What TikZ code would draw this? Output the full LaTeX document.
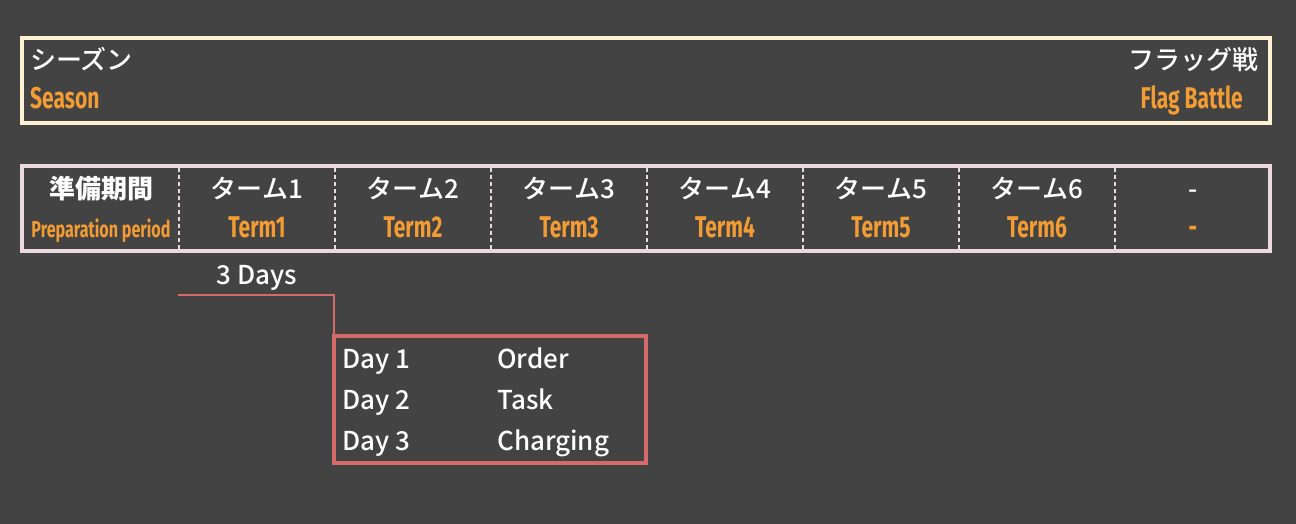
\documentclass[tikz,border=0pt]{standalone}
\usepackage{fontspec}
\usepackage{xcolor}
\usetikzlibrary{positioning}
\newfontfamily\jpfont{Noto Sans CJK JP}[UprightFont=* Medium]
\newfontfamily\labelfont[FakeStretch=0.7]{Fira Sans}
\definecolor{bggray}{HTML}{434343}
\definecolor{seasonframe}{HTML}{FEF2D4}
\definecolor{termframe}{HTML}{EBD9DF}
\definecolor{dayframe}{HTML}{D46A6A}
\definecolor{labelorange}{HTML}{F29C33}

\begin{document}
\begin{tikzpicture}[x=1pt,y=-1pt,
  jp/.style={text=white,inner sep=0pt,font=\jpfont\fontsize{26}{26}\selectfont},
  lbl/.style={text=labelorange,inner sep=0pt,font=\labelfont\bfseries\fontsize{30}{30}\selectfont},
  frame/.style={draw=#1,inner sep=0pt,outer sep=0pt,anchor=north west}]
\fill [bggray] (0,0) rectangle (1296,524);
% season bar
\node [frame=seasonframe,line width=4pt,minimum width=1248pt,minimum height=85pt] (season) at (22,38) {};
\node [jp,anchor=base west] (seasonjp) at (30,70) {シーズン};
\node [lbl,anchor=base west] (seasonen) at (30,109) {Season};
\node [jp,anchor=base east] (flagjp) at (1259,70) {フラッグ戦};
\node [lbl,anchor=base east] (flagen) at (1243,109) {Flag Battle};
% term row
\node [frame=termframe,line width=4pt,minimum width=1248pt,minimum height=85pt] (termrow) at (22,166) {};
\foreach \x in {179,335,491,647,803,959,1115}
  \draw [termframe,line width=2pt,dash pattern=on 4pt off 3pt] (\x,168) -- (\x,249);
\node [jp,anchor=base,font=\jpfont\bfseries\fontsize{26}{26}\selectfont] (prepjp) at (101,198) {準備期間};
\node [lbl,anchor=base,font=\labelfont\bfseries\fontsize{23}{23}\selectfont] (prepen) at (101,237) {Preparation period};
\foreach \i/\x in {1/257,2/413,3/569,4/725,5/881,6/1037} {
  \node [jp,anchor=base] (termjp\i) at (\x,198) {ターム\i};
  \node [lbl,anchor=base] (termen\i) at (\x,237) {Term\i};
}
\node [jp,anchor=base] (restjp) at (1193,198) {-};
\node [lbl,anchor=base] (resten) at (1193,237) {-};
% days detail
\node [jp,anchor=base] (days) at (257,284) {3 Days};
\node [frame=dayframe,line width=3.5pt,minimum width=312pt,minimum height=127pt] (daybox) at (334,336) {};
\coordinate (daysleft) at (178,295);
\draw [dayframe,line width=2pt] (daysleft) -| (daybox.north west);
\foreach \n/\task/\y in {1/Order/368,2/Task/409,3/Charging/450} {
  \node [jp,anchor=base west] (day\n) at (342,\y) {Day \n};
  \node [jp,anchor=base west] (task\n) at (497,\y) {\task};
}
\end{tikzpicture}
\end{document}
